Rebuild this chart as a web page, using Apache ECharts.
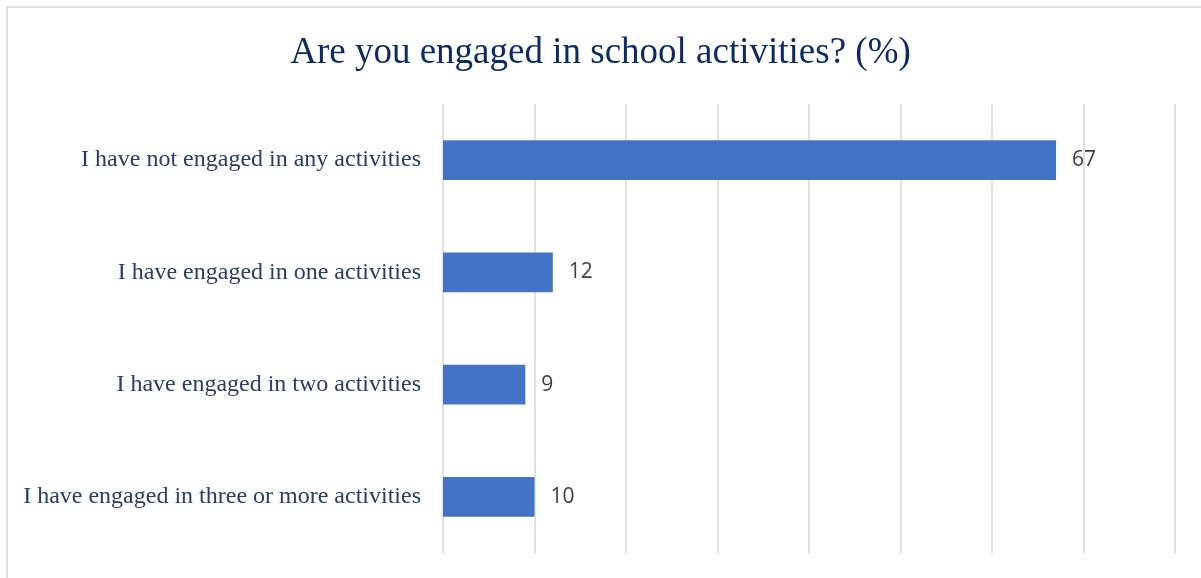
<!DOCTYPE html>
<html>
<head>
<meta charset="utf-8">
<title>Are you engaged in school activities? (%)</title>
<script src="https://cdn.jsdelivr.net/npm/echarts@6/dist/echarts.min.js"></script>
<style>
  html, body { margin: 0; padding: 0; background: #ffffff; }
  #chart { width: 1201px; height: 578px; }
</style>
</head>
<body>
<div id="chart"></div>
<script>
// Survey answers, top to bottom
const categories = [
  'I have not engaged in any activities',
  'I have engaged in one activities',
  'I have engaged in two activities',
  'I have engaged in three or more activities'
];
// Share of respondents (%)
const percentages = [67, 12, 9, 10];
const chartTitle = 'Are you engaged in school activities? (%)';

const chart = echarts.init(document.getElementById('chart'), null, { renderer: 'canvas' });

chart.setOption({
  backgroundColor: '#ffffff',
  animation: false,
  title: {
    text: chartTitle,
    left: 'center',
    top: 30,
    textStyle: {
      fontFamily: '"Liberation Serif", "Times New Roman", serif',
      fontWeight: 'normal',
      fontSize: 37,
      color: '#0e2a66'
    }
  },
  graphic: [{
    type: 'rect',
    silent: true,
    shape: { x: 7, y: 7, width: 1400, height: 800 },
    style: { fill: 'none', stroke: '#d9d9d9', lineWidth: 1.5 }
  }],
  grid: { left: 443, right: 26, top: 104, bottom: 25, containLabel: false },
  xAxis: {
    type: 'value',
    min: 0,
    max: 80,
    interval: 10,
    axisLabel: { show: false },
    axisLine: { show: false },
    axisTick: { show: false },
    splitLine: { show: true, lineStyle: { color: '#d9d9d9', width: 1.5 } }
  },
  yAxis: {
    type: 'category',
    inverse: true,
    data: categories,
    axisLine: { show: false },
    axisTick: { show: false },
    axisLabel: {
      margin: 22,
      fontFamily: '"Liberation Serif", "Times New Roman", serif',
      fontSize: 24,
      color: '#293d66',
      padding: [4, 0, 0, 0]
    }
  },
  series: [{
    type: 'bar',
    data: percentages,
    barWidth: '35.5%',
    itemStyle: { color: '#4472c4' },
    label: {
      show: true,
      position: 'right',
      distance: 16,
      fontFamily: '"Open Sans", sans-serif',
      fontSize: 21,
      color: '#404040'
    }
  }]
});
</script>
</body>
</html>
